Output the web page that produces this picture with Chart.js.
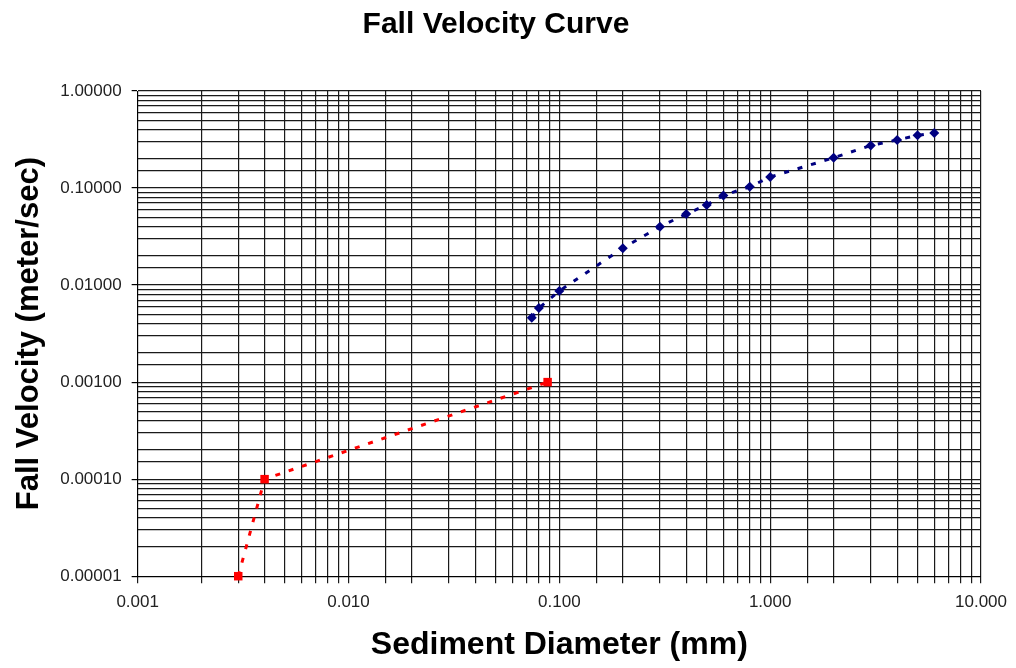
<!DOCTYPE html>
<html>
<head>
<meta charset="utf-8">
<script src="https://cdn.jsdelivr.net/npm/chart.js@4"></script>
<style>
html,body{margin:0;padding:0;background:#fff;}
#wrap{width:1016px;height:668px;}
</style>
</head>
<body>
<div id="wrap"><canvas id="c" width="1016" height="668"></canvas></div>
<script>
const chartTitle = "Fall Velocity Curve";
const xTitle = "Sediment Diameter (mm)";
const yTitle = "Fall Velocity (meter/sec)";

const sandDiameter = [0.074, 0.08, 0.1, 0.2, 0.3, 0.4, 0.5, 0.6, 0.8, 1.0, 2.0, 3.0, 4.0, 5.0, 6.0];
const sandVelocity = [0.0046, 0.0058, 0.0087, 0.024, 0.040, 0.054, 0.067, 0.084, 0.103, 0.130, 0.205, 0.275, 0.313, 0.349, 0.369];

const fineDiameter = [0.003, 0.004, 0.088];
const fineVelocity = [0.00001, 0.0001, 0.001];

const xMin = 0.001, xMax = 10;
const yMin = 0.00001, yMax = 1;

function isPow10(v){ const l = Math.log10(v); return Math.abs(l - Math.round(l)) < 1e-6; }

const toPts = (xs, ys) => xs.map((x, i) => ({x: x, y: ys[i]}));
const FONT = 'Liberation Sans, Arial, sans-serif';

new Chart(document.getElementById('c'), {
  type: 'line',
  data: {
    datasets: [
      {
        data: toPts(sandDiameter, sandVelocity),
        borderColor: '#000080',
        backgroundColor: '#000080',
        borderWidth: 3,
        borderDash: [5, 9],
        pointStyle: 'rectRot',
        pointRadius: 5,
        pointBorderWidth: 0,
        tension: 0,
        clip: false,
        fill: false
      },
      {
        data: toPts(fineDiameter, fineVelocity),
        borderColor: '#ff0000',
        backgroundColor: '#ff0000',
        borderWidth: 3,
        borderDash: [5, 9],
        pointStyle: 'rect',
        pointRadius: 6,
        pointBorderWidth: 0,
        tension: 0,
        clip: false,
        fill: false
      }
    ]
  },
  options: {
    responsive: false,
    animation: false,
    layout: { padding: { left: 6, right: 30, top: 0, bottom: 0 } },
    plugins: {
      legend: { display: false },
      tooltip: { enabled: false },
      title: {
        display: true,
        text: chartTitle,
        color: '#000',
        font: { family: FONT, size: 30, weight: 'bold' },
        padding: { top: 7, bottom: 48 }
      }
    },
    scales: {
      x: {
        type: 'logarithmic',
        min: xMin, max: xMax,
        border: { color: '#000', width: 1 },
        grid: { color: '#1a1a1a', lineWidth: 1.2, tickLength: 7, drawTicks: true },
        ticks: {
          autoSkip: false, maxRotation: 0, minRotation: 0,
          color: '#222', padding: 9,
          font: { family: FONT, size: 17 },
          callback: (v) => isPow10(v) ? Number(v).toFixed(3) : ''
        },
        title: {
          display: true, text: xTitle, color: '#000',
          font: { family: FONT, size: 32, weight: 'bold' },
          padding: { top: 4, bottom: 4 }
        }
      },
      y: {
        type: 'logarithmic',
        min: yMin, max: yMax,
        border: { color: '#000', width: 1 },
        grid: {
          color: '#1a1a1a', lineWidth: 1.2, tickLength: 6, drawTicks: true,
          tickColor: (ctx) => (ctx.tick && isPow10(ctx.tick.value)) ? '#000' : 'rgba(0,0,0,0)'
        },
        ticks: {
          autoSkip: false,
          color: '#222', padding: 10,
          font: { family: FONT, size: 17 },
          callback: (v) => isPow10(v) ? Number(v).toFixed(5) : ''
        },
        title: {
          display: true, text: yTitle, color: '#000',
          font: { family: FONT, size: 31, weight: 'bold' },
          padding: { top: 5, bottom: 2 }
        }
      }
    }
  }
});
</script>
</body>
</html>
